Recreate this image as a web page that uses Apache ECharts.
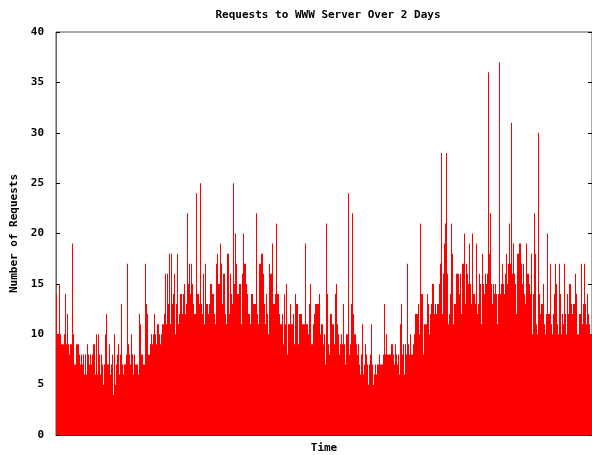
<!DOCTYPE html>
<html>
<head>
<meta charset="utf-8">
<script src="https://cdn.jsdelivr.net/npm/echarts@6/dist/echarts.min.js"></script>
<style>
  html, body { margin: 0; padding: 0; background: #fff; }
  #chart { width: 592px; height: 455px; }
</style>
</head>
<body>
<div id="chart"></div>
<script>
// Requests per sampling slot, first day night through second day evening
const requestsEarly = [
  14,10,10,15,10,9,9,9,10,14,
  9,12,9,8,9,9,19,10,7,7,
  9,9,9,8,7,8,7,8,6,8,
  6,9,8,7,8,7,8,9,9,6,
  10,6,10,8,6,8,7,5,7,10,
  12,7,7,9,6,7,8,4,10,5,
  7,8,9,6,8,13,7,6,7,7,
  8,17,9,8,7,10,8,6,8,7,
  7,7,6,12,11,8,8,7,7,17,
  13,12,8,8,9,10,9,10,12,10,
  9,11,11,10,9,10,11,11,12,16,
  11,16,13,18,11,18,13,14,16,10,
  13,18,11,12,14,14,12,14,15,12,
  13,22,15,17,14,17,15,13,12,12,
  24,14,14,13
];
const requestsDay1Peak = [
  25,13,12,16,11,17,13,13,12,13,
  15,15,14,14,12,11,17,18,15,15,
  19,17,13,16,16,12,11,18,18,12,
  16,14,13,25,15,20,17,14,14,15,
  15,11,16,20,17,17,15,14,12,12,
  11,14,14,13,13,13,22,12,11,17
];
const requestsDay1Evening = [
  17,18,18,16,13,11,14,12,10,17,
  16,16,19,13,13,14,21,14,14,12,
  11,11,12,9,14,11,15,8,11,11,
  13,11,11,12,9,14,13,13,9,12,
  12,12,11,11,11,19,11,11,10,13,
  15,9,9,11,12,13,13,13,13,14,
  10,11,11,9,10,7
];
const requestsNight2 = [
  21,14,9,8,12,12,11,11,9,14,
  15,11,10,8,9,10,9,13,9,7,
  10,10,24,8,9,13,22,12,10,10,
  9,8,9,7,6,8,11,6,7,9,
  8,7,5,7,8,11,7,5,6,7,
  6,7,7,8,7,7,7,8,13,8,
  10,8,8,8,8,9
];
const requestsMorning2 = [
  9,8,7,9,8,7,8,6,11,13,
  8,9,6,9,8,17,9,8,10,8,
  8,9,10,12,12,12,13,10,21,14,
  14,8,11,11,11,14,13,10,12,13,
  15,15,12,13,12,13,13,15,17,28,
  12,16,19,21,28,16,11,12,14,21,
  18,11,13,13,16,16
];
const requestsDay2Peak = [
  16,14,16,12,17,17,20,13,17,16,
  15,19,15,13,20,14,14,13,19,12,
  13,16,15,11,18,15,14,16,15,16,
  36,18,22,15,13,15,14,15,14,11,
  14,37,14,15,17,15,14,16,18,15,
  17,21,17,31,16,19,16,15,12,18,
  18,19
];
const requestsDay2Late = [
  19,17,15,17,14,13,19,16,16,15,
  14,18,10,14,22,18,11,10,30,14,
  12,13,13,15,11,10,12,20,12,12,
  17,11,10,12,14,17,15,11,10,17,
  14,10,12,11,17,12,10,14,12,15,
  15,13,12,13,13,16,14,10,10,12,
  12,17,11,13,17,13,11,14,12,11,
  10,10
];

// Y axis ticks
const yTicks = [0, 5, 10, 15, 20, 25, 30, 35, 40];

const requests = [].concat(
  requestsEarly, requestsDay1Peak, requestsDay1Evening,
  requestsNight2, requestsMorning2, requestsDay2Peak, requestsDay2Late
);
const slots = requests.map((_, i) => String(i));

const monoBold = {
  fontFamily: 'DejaVu Sans Mono',
  fontWeight: 'bold',
  fontSize: 11,
  color: '#000'
};

const chart = echarts.init(document.getElementById('chart'), null, { renderer: 'canvas' });
chart.setOption({
  animation: false,
  backgroundColor: '#fff',
  title: {
    text: 'Requests to WWW Server Over 2 Days',
    left: 323,
    textAlign: 'center',
    top: 5,
    textStyle: monoBold
  },
  grid: {
    left: 56, right: 0, top: 32, bottom: 20,
    outerBoundsMode: 'none',
    containLabel: false,
    show: true,
    borderColor: '#555',
    borderWidth: 1
  },
  xAxis: {
    type: 'category',
    data: slots,
    boundaryGap: true,
    axisLine: { show: true, lineStyle: { color: '#333', width: 1 } },
    axisTick: { show: false },
    axisLabel: { show: false },
    splitLine: { show: false },
    name: 'Time',
    nameLocation: 'middle',
    nameGap: 8,
    nameTextStyle: monoBold
  },
  yAxis: [
    {
      type: 'value',
      min: yTicks[0],
      max: yTicks[yTicks.length - 1],
      interval: yTicks[1] - yTicks[0],
      position: 'left',
      axisLine: { show: true, lineStyle: { color: '#666', width: 1 } },
      axisTick: { show: true, inside: true, length: 4, lineStyle: { color: '#000' } },
      axisLabel: Object.assign({ margin: 12 }, monoBold),
      splitLine: { show: false },
      name: 'Number of Requests',
      nameLocation: 'middle',
      nameRotate: 90,
      nameGap: 30,
      nameTextStyle: monoBold
    },
    {
      type: 'value',
      min: yTicks[0],
      max: yTicks[yTicks.length - 1],
      interval: yTicks[1] - yTicks[0],
      position: 'right',
      offset: 0,
      axisLine: { show: false },
      axisTick: { show: true, inside: true, length: 4, lineStyle: { color: '#000' } },
      axisLabel: { show: false },
      splitLine: { show: false }
    }
  ],
  series: [{
    type: 'bar',
    data: requests,
    barWidth: '100%',
    barCategoryGap: '0%',
    itemStyle: { color: '#ff0000' },
    emphasis: { disabled: true },
    silent: true
  }]
});
</script>
</body>
</html>
